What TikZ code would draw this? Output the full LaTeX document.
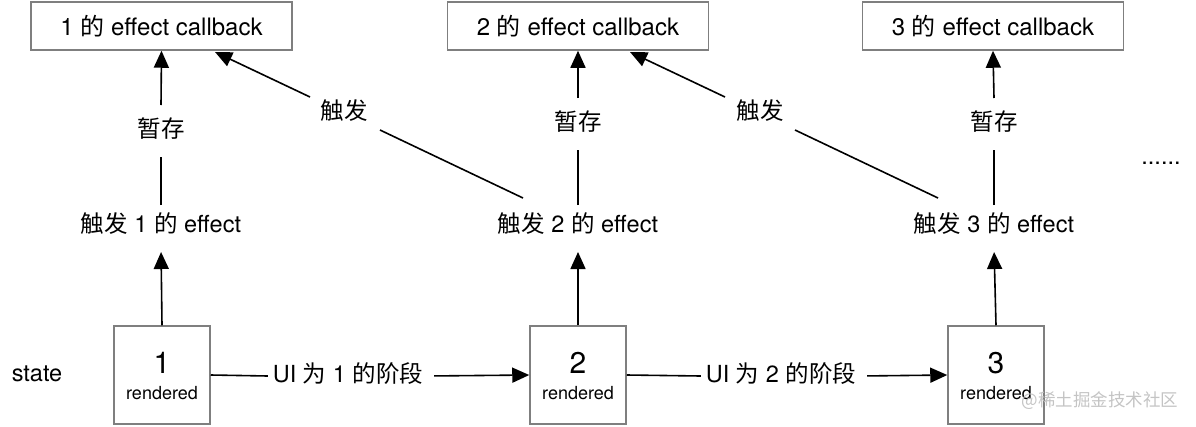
\documentclass[tikz,border=0pt]{standalone}
\usepackage{fontspec}
\setmainfont{TeX Gyre Heros}
\newfontfamily\cjk{Noto Sans CJK SC}
\usetikzlibrary{arrows.meta}
\definecolor{boxgray}{HTML}{7F7F7F}
\definecolor{wmgray}{HTML}{C4C4C4}
\begin{document}
\begin{tikzpicture}[x=1pt,y=-1pt,
  cbbox/.style={draw=boxgray,line width=1.5pt,minimum width=261pt,minimum height=48pt,inner sep=0pt,font=\fontsize{24}{28}\selectfont},
  stbox/.style={draw=boxgray,line width=1.5pt,minimum width=96pt,minimum height=98pt,inner sep=0pt},
  lbl/.style={font=\fontsize{23.5}{28}\selectfont,inner sep=0pt,text height=17pt,text depth=5pt},
  trl/.style={lbl,outer ysep=10pt},
  zcl/.style={lbl,outer ysep=15pt},
  uil/.style={lbl,outer xsep=5pt},
  ln/.style={line width=1.6pt},
  arr/.style={line width=1.6pt,-{Triangle[length=17pt,width=15pt]}},
]
\useasboundingbox (0,0) rectangle (1196,426);
% top boxes
\node[cbbox] (cb1) at (161.5,26) {1 {\cjk 的} effect callback};
\node[cbbox] (cb2) at (578,26) {2 {\cjk 的} effect callback};
\node[cbbox] (cb3) at (993,26) {3 {\cjk 的} effect callback};
% temp labels
\node[zcl] (zc1) at (161,131) {\cjk 暂存};
\node[zcl] (zc2) at (578,124) {\cjk 暂存};
\node[zcl] (zc3) at (994,124) {\cjk 暂存};
% trigger labels
\node[trl] (tr1) at (161,226) {{\cjk 触发} 1 {\cjk 的} effect};
\node[trl] (tr2) at (578,226) {{\cjk 触发} 2 {\cjk 的} effect};
\node[trl] (tr3) at (994,226) {{\cjk 触发} 3 {\cjk 的} effect};
% state boxes
\node[stbox] (s1) at (162,375) {};
\node[stbox] (s2) at (578,375) {};
\node[stbox] (s3) at (996,375) {};
\foreach \i/\x in {1/162,2/578,3/996}{
  \node[font=\fontsize{30}{34}\selectfont,inner sep=0pt] (n\i) at (\x,363) {\i};
  \node[font=\fontsize{18}{21}\selectfont,inner sep=0pt] (r\i) at (\x,393) {rendered};
}
\node[lbl] (state) at (37,375) {state};
% stage labels
\node[uil] (ui1) at (348,376) {UI {\cjk 为} 1 {\cjk 的阶段}};
\node[uil] (ui2) at (781,376) {UI {\cjk 为} 2 {\cjk 的阶段}};
% diagonal trigger labels
\node[lbl] (k1) at (344,113) {\cjk 触发};
\node[lbl] (k2) at (760,113) {\cjk 触发};
\node[lbl] (dots) at (1161,158) {......};
\node[font=\fontsize{17.5}{20}\selectfont,text=wmgray,inner sep=0pt] (wm) at (1100,401) {{\cjk @稀土掘金技术社区}};
% coordinates
\coordinate (d1s) at (523,198);
\coordinate (d1m) at (380,130);
\coordinate (d1n) at (310,97);
\coordinate (d1e) at (215,52);
\coordinate (d2s) at (938,198);
\coordinate (d2m) at (795,130);
\coordinate (d2n) at (725,97);
\coordinate (d2e) at (630,52);
% column arrows
\foreach \i in {1,2,3}{
  \draw[arr,shorten >=5pt] (s\i.north) -- (tr\i.south);
  \draw[ln] (tr\i.north) -- (zc\i.south);
  \draw[arr] (zc\i.north) -- (cb\i.south);
}
% diagonals
\draw[ln] (d1s) -- (d1m);
\draw[arr] (d1n) -- (d1e);
\draw[ln] (d2s) -- (d2m);
\draw[arr] (d2n) -- (d2e);
% horizontal
\draw[ln] (s1.east) -- (ui1.west);
\draw[arr,shorten <=6pt] (ui1.east) -- (s2.west);
\draw[ln] (s2.east) -- (ui2.west);
\draw[arr,shorten <=6pt] (ui2.east) -- (s3.west);
\end{tikzpicture}
\end{document}
